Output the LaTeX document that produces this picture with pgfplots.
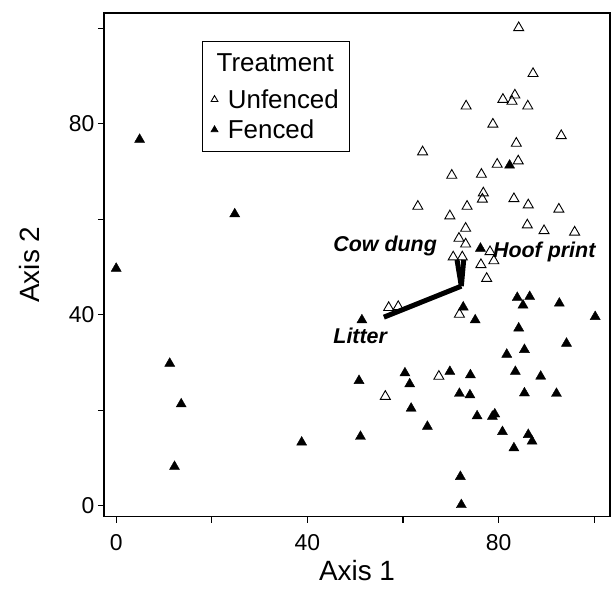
\documentclass[border=0pt]{standalone}
\usepackage{pgfplots}
\pgfplotsset{compat=1.18}
\usepackage{fontspec}
\setmainfont{Liberation Sans}

\pgfplotstableread{
x y
84.2 100.1
87.2 90.5
73.2 83.7
80.9 85.1
83.4 86.0
82.8 84.7
86.1 83.7
78.8 79.9
93.1 77.5
83.7 75.9
64.1 74.1
70.2 69.2
79.7 71.5
84.1 72.2
76.4 69.4
76.8 65.5
76.6 64.2
63.1 62.7
73.4 62.7
83.2 64.3
86.2 63.0
92.6 62.1
69.8 60.7
73.1 58.1
86.0 58.8
89.5 57.6
95.9 57.3
71.7 56.0
73.1 54.8
78.2 53.2
79.0 51.3
76.3 50.5
70.5 52.1
72.4 52.1
77.5 47.6
57.0 41.5
59.0 41.7
71.8 40.1
67.5 27.1
56.3 22.9
}\unfenced

\pgfplotstableread{
x y
4.9 76.7
24.8 61.1
0.0 49.7
11.2 29.8
13.6 21.3
12.2 8.2
38.8 13.3
82.3 71.3
76.2 53.9
51.4 38.9
72.6 41.6
75.1 38.9
83.9 43.6
85.1 42.0
86.5 43.8
92.7 42.4
100.2 39.6
84.2 37.2
94.2 34.0
85.4 32.7
81.7 31.7
50.8 26.2
60.4 27.8
61.4 25.5
69.8 28.1
74.1 27.4
83.5 28.1
88.8 27.1
71.8 23.5
74.0 23.2
85.4 23.6
92.1 23.5
51.1 14.5
61.7 20.4
65.1 16.6
75.5 18.8
78.7 18.7
79.2 19.2
80.8 15.5
83.2 12.1
86.2 14.9
87.0 13.5
72.0 6.1
72.2 0.2
}\fenced

\begin{document}
\begin{tikzpicture}
\begin{axis}[
    scale only axis,
    width=506bp, height=503.5bp,
    xmin=-2.55, xmax=103.3,
    ymin=-2.24, ymax=103.2,
    axis line style={line width=1.4bp},
    xtick={0,40,80}, minor xtick={20,60,100},
    ytick={0,40,80}, minor ytick={20,60,100},
    tick pos=left,
    tick align=outside,
    major tick length=6bp, minor tick length=6bp,
    every tick/.style={line width=1.3bp, black},
    every minor tick/.style={line width=1.3bp, black},
    tick label style={font=\fontsize{23}{26}\selectfont},
    xticklabel style={yshift=-8bp},
    /pgf/number format/assume math mode=true,
    xlabel={Axis 1}, ylabel={Axis 2},
    label style={font=\fontsize{28}{32}\selectfont},
    xlabel style={at={(axis description cs:0.5,-0.1082)}, anchor=center},
    ylabel style={at={(axis description cs:-0.1462,0.5)}, anchor=center},
    legend style={at={(axis cs:17.9,97.3)}, anchor=north west, draw=black,
        line width=0.8bp, font=\fontsize{26}{29}\selectfont,
        inner xsep=9bp, inner ysep=10bp, row sep=6bp, column sep=8bp,
        cells={anchor=west}},
    legend image code/.code={\draw[#1, mark size=3.9bp] plot coordinates {(0bp,0bp)};},
]
\addlegendimage{empty legend}
\addlegendentry[text depth=8bp]{\hspace*{-11.2bp}Treatment}

\addplot[only marks, mark=triangle, mark size=5.8bp, mark options={line width=0.9bp, black}] table {\unfenced};
\addlegendentry{Unfenced}
\addplot[only marks, mark=triangle*, mark size=5.8bp, black] table {\fenced};
\addlegendentry{Fenced}

% biplot vectors
\addplot[forget plot, line width=5bp, black] coordinates {(72.2,46.0) (56.0,39.5)};
\addplot[forget plot, line width=5bp, black] coordinates {(72.2,46.0) (71.3,51.5)};
\addplot[forget plot, line width=5bp, black] coordinates {(72.2,46.0) (72.7,51.5)};

\node[font=\bfseries\itshape\fontsize{21.5}{24}\selectfont, anchor=base west, inner sep=0pt] at (axis cs:45.4,53.2) {Cow dung};
\node[font=\bfseries\itshape\fontsize{21.5}{24}\selectfont, anchor=base west, inner sep=0pt] at (axis cs:78.8,52.0) {Hoof print};
\node[font=\bfseries\itshape\fontsize{21.5}{24}\selectfont, anchor=base west, inner sep=0pt] at (axis cs:45.4,34.0) {Litter};

\coordinate (ll) at (rel axis cs:0,0);
\end{axis}
\pgfresetboundingbox
\path (ll) ++(-104bp,-76.5bp) rectangle ++(614bp,593bp);
\end{tikzpicture}
\end{document}
